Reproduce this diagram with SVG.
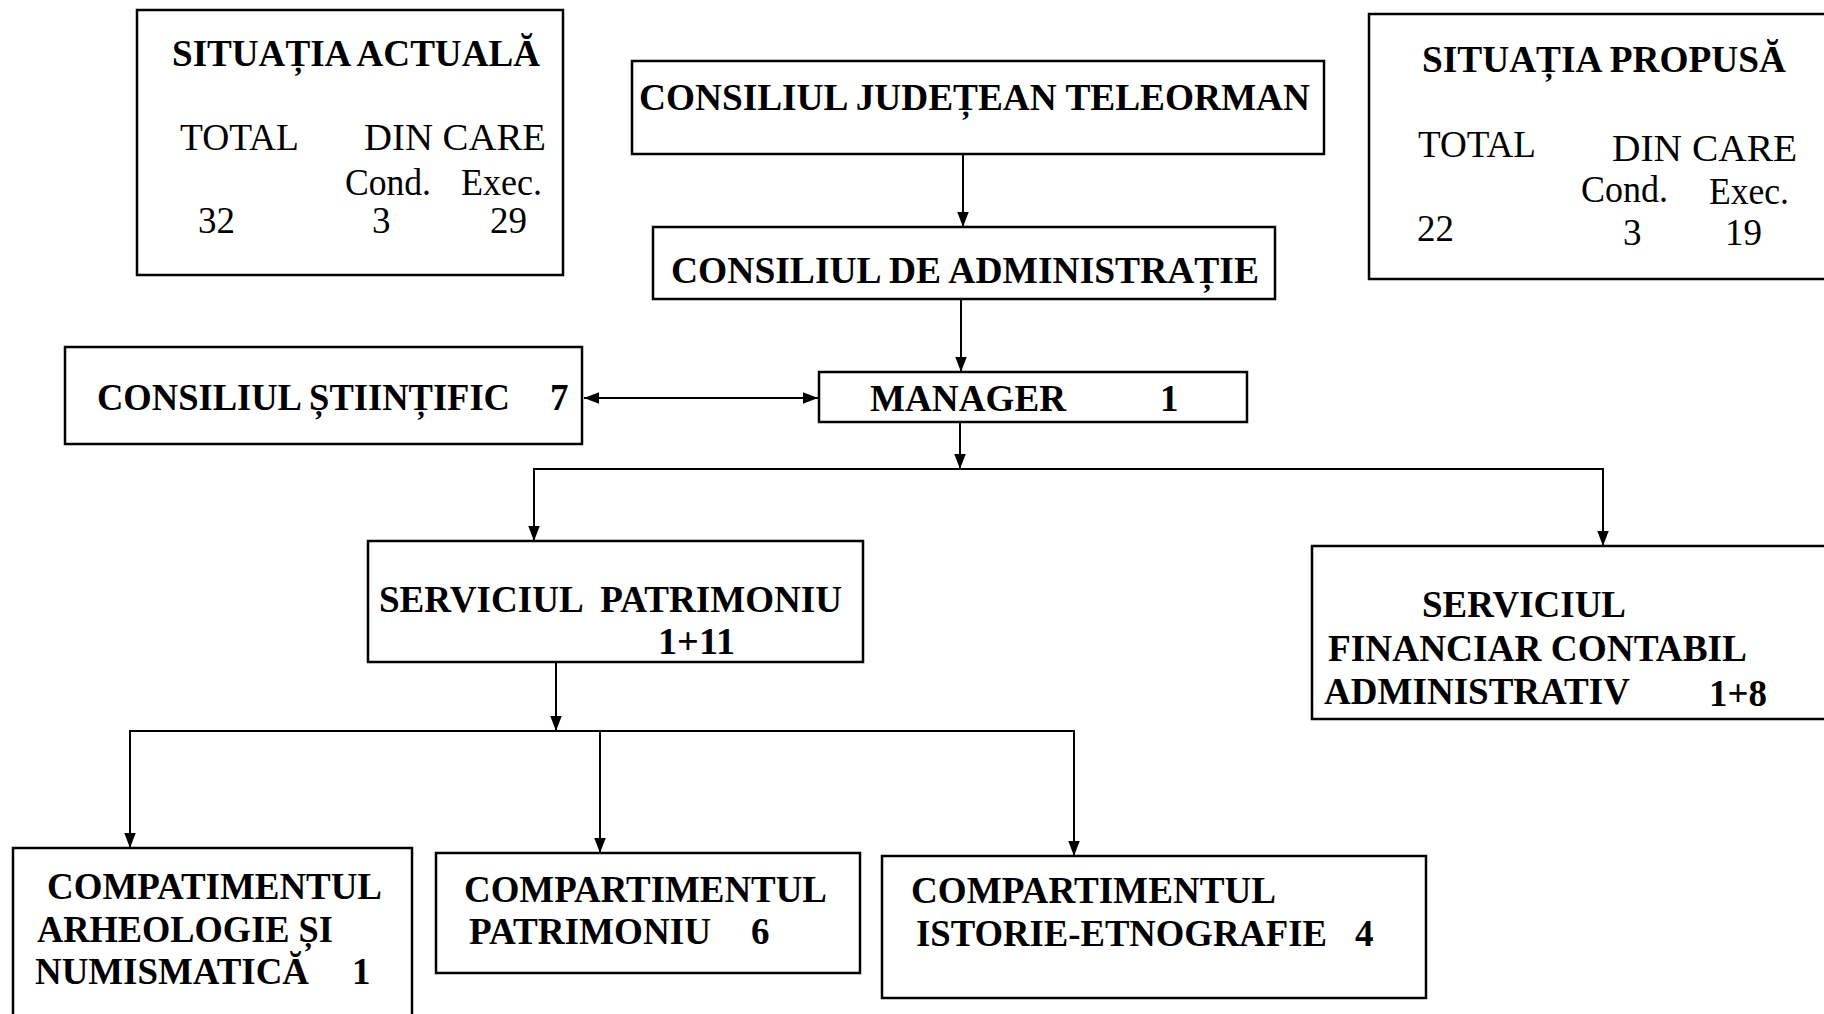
<svg xmlns="http://www.w3.org/2000/svg" width="1824" height="1014" viewBox="0 0 1824 1014">
<style>
.box{fill:#fff;stroke:#000;stroke-width:2.5}
.b{font-family:"Liberation Serif","Times New Roman",serif;font-weight:bold;font-size:37px;fill:#000}
.r{font-family:"Liberation Serif","Times New Roman",serif;font-weight:normal;font-size:37px;fill:#000}
.ln{fill:none;stroke:#000;stroke-width:2}
.pre{white-space:pre}
</style>
<defs>
<marker id="ah" markerUnits="userSpaceOnUse" markerWidth="15" markerHeight="19" refX="17" refY="6.5" orient="auto-start-reverse" viewBox="0 0 17 13">
<path d="M0,0 L17,6.5 L0,13 z" fill="#000"/>
</marker>
</defs>
<rect width="1824" height="1014" fill="#fff"/>

<g id="situatia-actuala">
<rect class="box" x="137" y="10" width="426" height="265"/>
<text class="b" x="172" y="66" textLength="368" lengthAdjust="spacingAndGlyphs">SITUAȚIA ACTUALĂ</text>
<text class="r" x="180" y="150" textLength="119" lengthAdjust="spacingAndGlyphs">TOTAL</text>
<text class="r" x="364" y="150" textLength="182" lengthAdjust="spacingAndGlyphs">DIN CARE</text>
<text class="r" x="345" y="195" textLength="86" lengthAdjust="spacingAndGlyphs">Cond.</text>
<text class="r" x="461" y="195" textLength="81" lengthAdjust="spacingAndGlyphs">Exec.</text>
<text class="r" x="198" y="233">32</text>
<text class="r" x="372" y="233">3</text>
<text class="r" x="490" y="233">29</text>
</g>

<g id="consiliul-judetean">
<rect class="box" x="632" y="61" width="692" height="93"/>
<text class="b" x="639" y="110" textLength="671" lengthAdjust="spacingAndGlyphs">CONSILIUL JUDEȚEAN TELEORMAN</text>
</g>

<g id="consiliul-administratie">
<rect class="box" x="653" y="227" width="622" height="72"/>
<text class="b" x="671" y="283" textLength="588" lengthAdjust="spacingAndGlyphs">CONSILIUL DE ADMINISTRAȚIE</text>
</g>

<g id="situatia-propusa">
<rect class="box" x="1369" y="14" width="480" height="265"/>
<text class="b" x="1422" y="72" textLength="364" lengthAdjust="spacingAndGlyphs">SITUAȚIA PROPUSĂ</text>
<text class="r" x="1418" y="157" textLength="118" lengthAdjust="spacingAndGlyphs">TOTAL</text>
<text class="r" x="1612" y="161" textLength="185" lengthAdjust="spacingAndGlyphs">DIN CARE</text>
<text class="r" x="1581" y="202" textLength="87" lengthAdjust="spacingAndGlyphs">Cond.</text>
<text class="r" x="1709" y="204" textLength="80" lengthAdjust="spacingAndGlyphs">Exec.</text>
<text class="r" x="1417" y="241">22</text>
<text class="r" x="1623" y="245">3</text>
<text class="r" x="1725" y="245">19</text>
</g>

<g id="consiliul-stiintific">
<rect class="box" x="65" y="347" width="517" height="97"/>
<text class="b" x="97" y="410" textLength="413" lengthAdjust="spacingAndGlyphs">CONSILIUL ȘTIINȚIFIC</text>
<text class="b" x="550" y="410">7</text>
</g>

<g id="manager">
<rect class="box" x="819" y="372" width="428" height="50"/>
<text class="b" x="870" y="411" textLength="196" lengthAdjust="spacingAndGlyphs">MANAGER</text>
<text class="b" x="1160" y="411">1</text>
</g>

<g id="serviciul-patrimoniu">
<rect class="box" x="368" y="541" width="495" height="121"/>
<text class="b pre" x="379" y="612" textLength="463" lengthAdjust="spacingAndGlyphs">SERVICIUL  PATRIMONIU</text>
<text class="b" x="658" y="654" textLength="77" lengthAdjust="spacingAndGlyphs">1+11</text>
</g>

<g id="serviciul-financiar">
<rect class="box" x="1312" y="546" width="540" height="173"/>
<text class="b" x="1422" y="617" textLength="204" lengthAdjust="spacingAndGlyphs">SERVICIUL</text>
<text class="b" x="1328" y="661" textLength="419" lengthAdjust="spacingAndGlyphs">FINANCIAR CONTABIL</text>
<text class="b" x="1324" y="704" textLength="306" lengthAdjust="spacingAndGlyphs">ADMINISTRATIV</text>
<text class="b" x="1709" y="706" textLength="58" lengthAdjust="spacingAndGlyphs">1+8</text>
</g>

<g id="compartimentul-arheologie">
<rect class="box" x="13" y="848" width="399" height="190"/>
<text class="b" x="47" y="899" textLength="335" lengthAdjust="spacingAndGlyphs">COMPATIMENTUL</text>
<text class="b" x="37" y="942" textLength="296" lengthAdjust="spacingAndGlyphs">ARHEOLOGIE ȘI</text>
<text class="b" x="35" y="984" textLength="274" lengthAdjust="spacingAndGlyphs">NUMISMATICĂ</text>
<text class="b" x="352" y="984">1</text>
</g>

<g id="compartimentul-patrimoniu">
<rect class="box" x="436" y="853" width="424" height="120"/>
<text class="b" x="464" y="902" textLength="363" lengthAdjust="spacingAndGlyphs">COMPARTIMENTUL</text>
<text class="b" x="469" y="944" textLength="242" lengthAdjust="spacingAndGlyphs">PATRIMONIU</text>
<text class="b" x="751" y="944">6</text>
</g>

<g id="compartimentul-istorie">
<rect class="box" x="882" y="856" width="544" height="142"/>
<text class="b" x="911" y="903" textLength="365" lengthAdjust="spacingAndGlyphs">COMPARTIMENTUL</text>
<text class="b" x="916" y="946" textLength="411" lengthAdjust="spacingAndGlyphs">ISTORIE-ETNOGRAFIE</text>
<text class="b" x="1355" y="946">4</text>
</g>

<g id="connectors">
<line class="ln" x1="963" y1="154" x2="963" y2="227" marker-end="url(#ah)"/>
<line class="ln" x1="961" y1="299" x2="961" y2="372" marker-end="url(#ah)"/>
<line class="ln" x1="584" y1="398" x2="818" y2="398" marker-start="url(#ah)" marker-end="url(#ah)"/>
<line class="ln" x1="960" y1="422" x2="960" y2="469" marker-end="url(#ah)"/>
<polyline class="ln" points="534,541 534,469 1603,469 1603,546"/>
<line class="ln" x1="534" y1="500" x2="534" y2="541" marker-end="url(#ah)"/>
<line class="ln" x1="1603" y1="500" x2="1603" y2="546" marker-end="url(#ah)"/>
<line class="ln" x1="556" y1="662" x2="556" y2="731" marker-end="url(#ah)"/>
<polyline class="ln" points="130,848 130,731 1074,731 1074,856"/>
<line class="ln" x1="130" y1="800" x2="130" y2="848" marker-end="url(#ah)"/>
<line class="ln" x1="600" y1="731" x2="600" y2="853" marker-end="url(#ah)"/>
<line class="ln" x1="1074" y1="800" x2="1074" y2="856" marker-end="url(#ah)"/>
</g>
</svg>
